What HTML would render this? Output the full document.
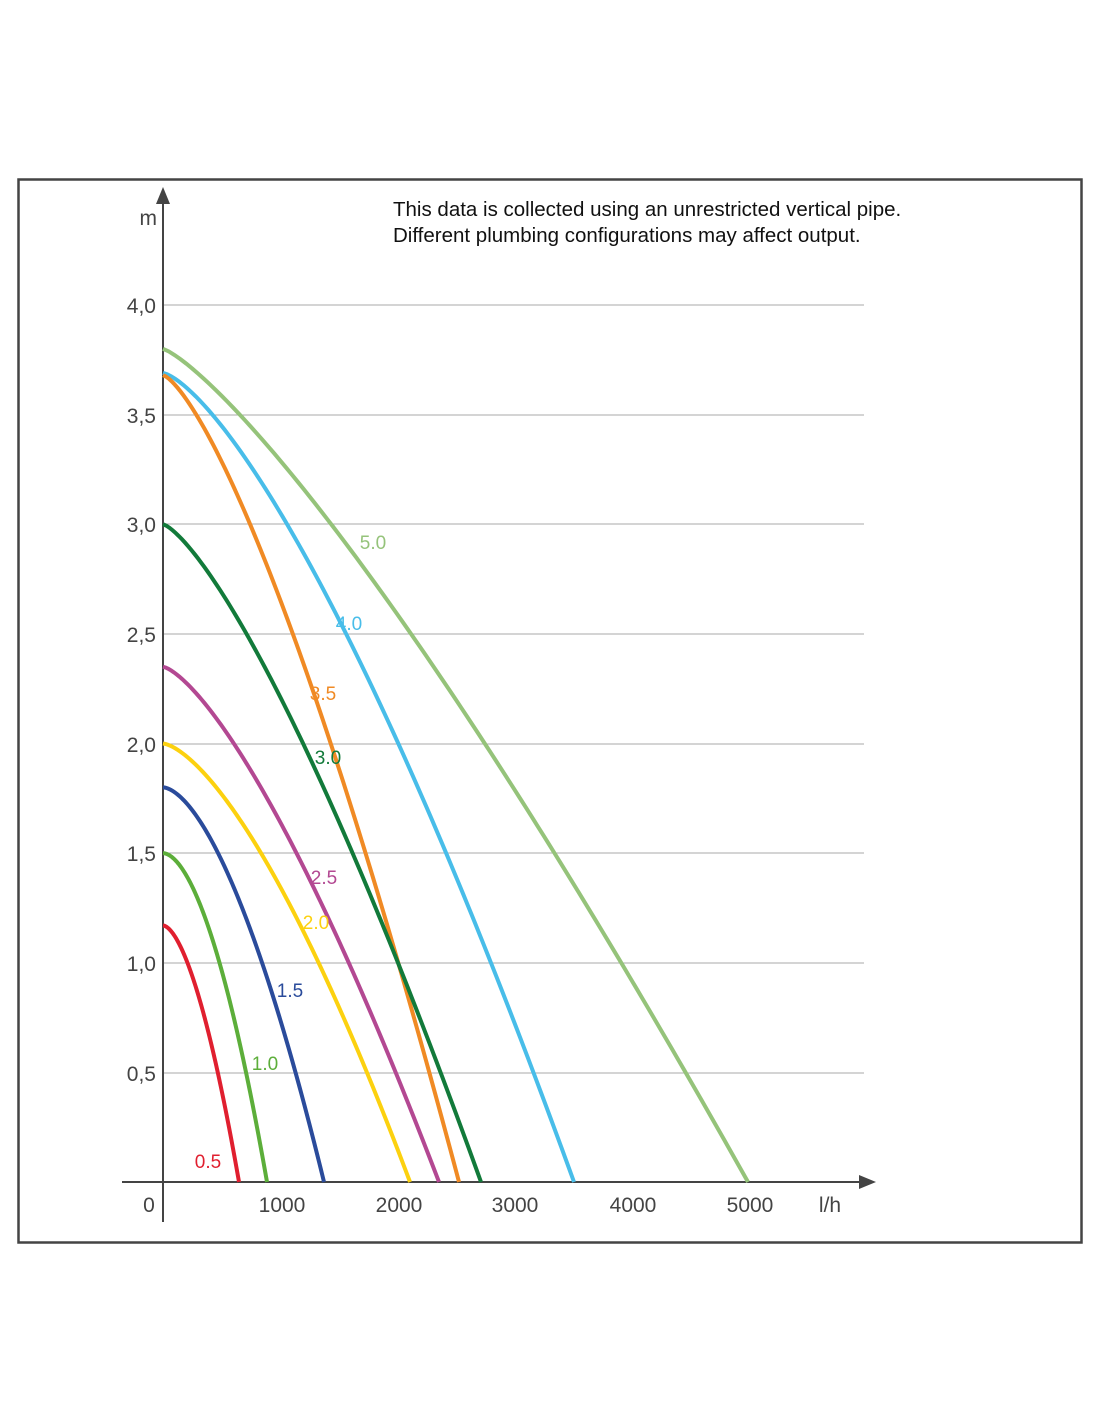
<!DOCTYPE html>
<html><head><meta charset="utf-8"><style>
body{margin:0;background:#fff;}
svg text{font-family:"Liberation Sans",sans-serif;}
</style></head><body>
<svg id="s" width="1100" height="1422" viewBox="0 0 1100 1422" xmlns="http://www.w3.org/2000/svg">
<rect x="18.5" y="179.5" width="1063" height="1063" fill="none" stroke="#444" stroke-width="2.5"/>
<g stroke="#aaa" stroke-width="1">
<line x1="163" x2="864" y1="305" y2="305"/><line x1="163" x2="864" y1="415" y2="415"/>
<line x1="163" x2="864" y1="524" y2="524"/><line x1="163" x2="864" y1="634" y2="634"/>
<line x1="163" x2="864" y1="744" y2="744"/><line x1="163" x2="864" y1="853" y2="853"/>
<line x1="163" x2="864" y1="963" y2="963"/><line x1="163" x2="864" y1="1073" y2="1073"/>
</g>
<g stroke="#444" stroke-width="2"><line x1="163" y1="195" x2="163" y2="1222"/><line x1="122" y1="1182" x2="866" y2="1182"/></g>
<polygon points="163,187 156,204 170,204" fill="#444"/>
<polygon points="876,1182 859,1175 859,1189" fill="#444"/>
<g fill="#444" font-size="21" text-anchor="end">
<text x="156" y="313">4,0</text><text x="156" y="423">3,5</text><text x="156" y="532">3,0</text>
<text x="156" y="642">2,5</text><text x="156" y="752">2,0</text><text x="156" y="861">1,5</text>
<text x="156" y="971">1,0</text><text x="156" y="1081">0,5</text><text x="157" y="225">m</text>
</g>
<g fill="#444" font-size="21" text-anchor="middle">
<text x="149" y="1212">0</text><text x="282" y="1212">1000</text><text x="399" y="1212">2000</text>
<text x="515" y="1212">3000</text><text x="633" y="1212">4000</text><text x="750" y="1212">5000</text>
<text x="830" y="1212">l/h</text>
</g>
<g fill="#111" font-size="20.5"><text x="393" y="216">This data is collected using an unrestricted vertical pipe.</text>
<text x="393" y="242">Different plumbing configurations may affect output.</text></g>
<g id="curves" fill="none" stroke-width="4"></g>
<g font-size="19">
<text x="373" y="549" fill="#95c37a" text-anchor="middle">5.0</text>
<text x="349" y="630" fill="#48bde9" text-anchor="middle">4.0</text>
<text x="323" y="700" fill="#f08a24" text-anchor="middle">3.5</text>
<text x="328" y="764" fill="#127a3a" text-anchor="middle">3.0</text>
<text x="324" y="884" fill="#b34892" text-anchor="middle">2.5</text>
<text x="316" y="929" fill="#fcd10f" text-anchor="middle">2.0</text>
<text x="290" y="997" fill="#2a4b9b" text-anchor="middle">1.5</text>
<text x="265" y="1070" fill="#5cae3a" text-anchor="middle">1.0</text>
<text x="208" y="1168" fill="#e01f2f" text-anchor="middle">0.5</text>
</g>
</svg>
<script>
var C=[[3.8,748,1.25,"#95c37a"],[3.69,574,1.4,"#48bde9"],[3.68,459,1.38,"#f08a24"],[3.0,481,1.34,"#127a3a"],[2.35,439,1.4,"#b34892"],[2.0,410,1.5,"#fcd10f"],[1.8,324,1.67,"#2a4b9b"],[1.5,267,1.8,"#5cae3a"],[1.17,239,1.7,"#e01f2f"]];
var g=document.getElementById("curves"),ns="http://www.w3.org/2000/svg";
C.forEach(function(c){var d="";for(var i=0;i<=100;i++){var t=i/100;var h=c[0]*(1-Math.pow(t,c[2]));var x=163+t*(c[1]-163);var y=1182-h*219.25;d+=(i?"L":"M")+x.toFixed(2)+","+y.toFixed(2);}
var p=document.createElementNS(ns,"path");p.setAttribute("d",d);p.setAttribute("stroke",c[3]);g.appendChild(p);});
</script>
</body></html>
